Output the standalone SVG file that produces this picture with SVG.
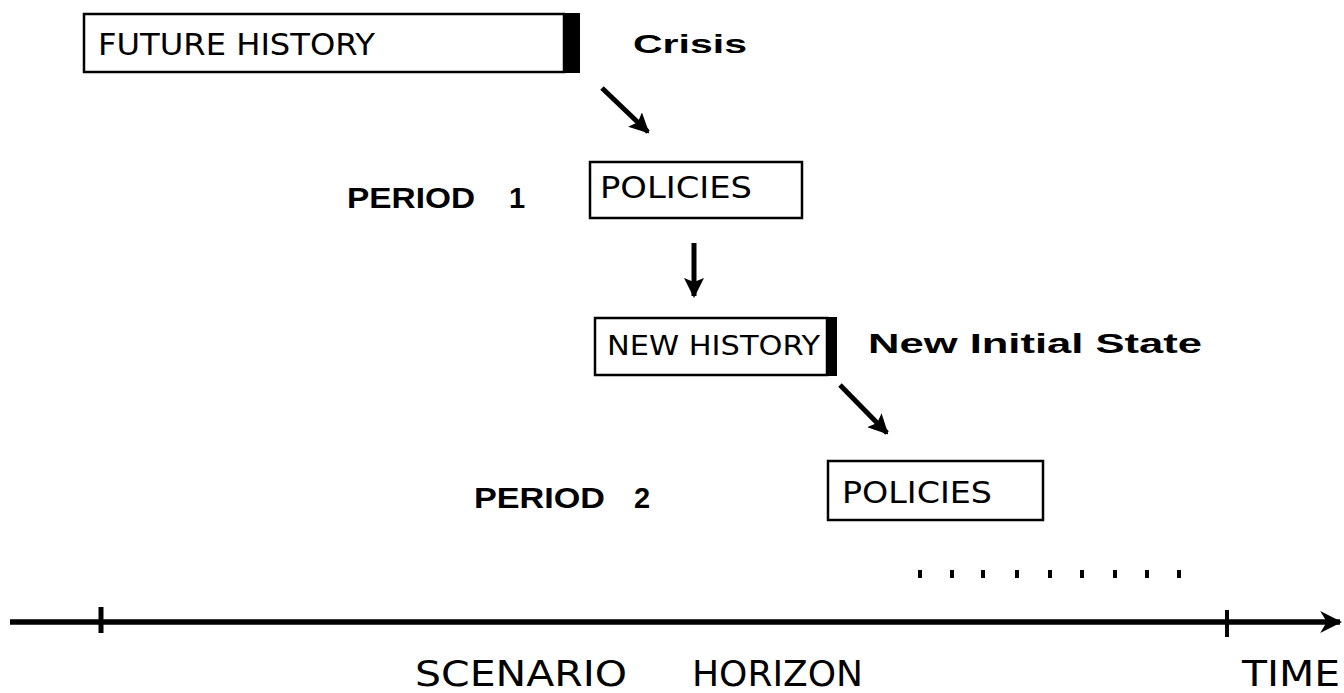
<svg xmlns="http://www.w3.org/2000/svg" width="1344" height="693" viewBox="0 0 1344 693">
  <style>
    .box { fill: #fff; stroke: #000; stroke-width: 2.5; }
    .bar { fill: #000; }
    .boxtxt { font-family: "DejaVu Sans Condensed", "Liberation Sans", sans-serif; font-weight: normal; fill: #000; }
    .lbl { font-family: "Liberation Sans", "DejaVu Sans", sans-serif; font-weight: bold; fill: #000; }
    .axis { font-family: "DejaVu Sans Condensed", "Liberation Sans", sans-serif; fill: #000; }
    .conn { stroke: #000; stroke-width: 5; fill: none; }
    .dot { fill: #000; }
  </style>
  <defs>
    <marker id="head" viewBox="0 0 10 10" refX="9" refY="5" markerWidth="4" markerHeight="4" orient="auto" markerUnits="strokeWidth">
      <path d="M0,0 L10,5 L0,10 L2,5 Z" fill="#000"/>
    </marker>
    <marker id="axhead" viewBox="0 0 10 10" refX="9" refY="5" markerWidth="4" markerHeight="4" orient="auto" markerUnits="strokeWidth">
      <path d="M0,0 L10,5 L0,10 L3,5 Z" fill="#000"/>
    </marker>
  </defs>

  <rect width="1344" height="693" fill="#fff"/>

  <!-- first period: history leading to a crisis -->
  <g id="future-history">
    <rect class="box" x="84" y="14" width="480" height="58"/>
    <rect class="bar" x="563" y="13" width="17" height="60"/>
    <text class="boxtxt" x="98" y="55" font-size="31" textLength="277" lengthAdjust="spacingAndGlyphs">FUTURE HISTORY</text>
  </g>
  <g id="crisis">
    <text class="lbl" x="633" y="53" font-size="26" textLength="114" lengthAdjust="spacingAndGlyphs">Crisis</text>
  </g>
  <g id="period-1">
    <text class="lbl" x="347" y="208" font-size="29"><tspan textLength="128" lengthAdjust="spacingAndGlyphs">PERIOD</tspan><tspan x="509">1</tspan></text>
  </g>
  <g id="policies-1">
    <rect class="box" x="590" y="162" width="212" height="56"/>
    <text class="boxtxt" x="600" y="198" font-size="30" textLength="152" lengthAdjust="spacingAndGlyphs">POLICIES</text>
  </g>

  <!-- second period: new initial state -->
  <g id="new-history">
    <rect class="box" x="595" y="318" width="232" height="57"/>
    <rect class="bar" x="826" y="317" width="11" height="59"/>
    <text class="boxtxt" x="607" y="355" font-size="26" textLength="213" lengthAdjust="spacingAndGlyphs">NEW HISTORY</text>
  </g>
  <g id="new-initial-state">
    <text class="lbl" x="868" y="353" font-size="28" textLength="334" lengthAdjust="spacingAndGlyphs">New Initial State</text>
  </g>
  <g id="period-2">
    <text class="lbl" x="474" y="508" font-size="29"><tspan textLength="131" lengthAdjust="spacingAndGlyphs">PERIOD</tspan><tspan x="634">2</tspan></text>
  </g>
  <g id="policies-2">
    <rect class="box" x="828" y="461" width="215" height="59"/>
    <text class="boxtxt" x="842" y="503" font-size="31" textLength="150" lengthAdjust="spacingAndGlyphs">POLICIES</text>
  </g>

  <!-- continuation marks -->
  <g id="continuation">
    <rect class="dot" x="918" y="570" width="4" height="8"/>
    <rect class="dot" x="950" y="570" width="4" height="8"/>
    <rect class="dot" x="981" y="570" width="4" height="8"/>
    <rect class="dot" x="1015" y="570" width="4" height="8"/>
    <rect class="dot" x="1048" y="570" width="4" height="8"/>
    <rect class="dot" x="1080" y="570" width="4" height="8"/>
    <rect class="dot" x="1113" y="570" width="4" height="8"/>
    <rect class="dot" x="1145" y="570" width="4" height="8"/>
    <rect class="dot" x="1177" y="570" width="4" height="8"/>
  </g>

  <!-- connectors -->
  <g id="connectors">
    <line class="conn" x1="602" y1="88" x2="648" y2="132" marker-end="url(#head)"/>
    <line class="conn" x1="694" y1="243" x2="694" y2="296" marker-end="url(#head)"/>
    <line class="conn" x1="840" y1="385" x2="887" y2="433" marker-end="url(#head)"/>
  </g>

  <!-- time axis -->
  <g id="time-axis">
    <line x1="10" y1="622" x2="1340" y2="622" stroke="#000" stroke-width="5.5" marker-end="url(#axhead)"/>
    <line x1="101" y1="607" x2="101" y2="633" stroke="#000" stroke-width="5"/>
    <line x1="1227" y1="610" x2="1227" y2="637" stroke="#000" stroke-width="4"/>
    <text class="axis" x="415" y="686" font-size="36"><tspan textLength="212" lengthAdjust="spacingAndGlyphs">SCENARIO</tspan><tspan x="692" textLength="171" lengthAdjust="spacingAndGlyphs">HORIZON</tspan></text>
    <text class="axis" x="1242" y="686" font-size="36" textLength="98" lengthAdjust="spacingAndGlyphs">TIME</text>
  </g>
</svg>
